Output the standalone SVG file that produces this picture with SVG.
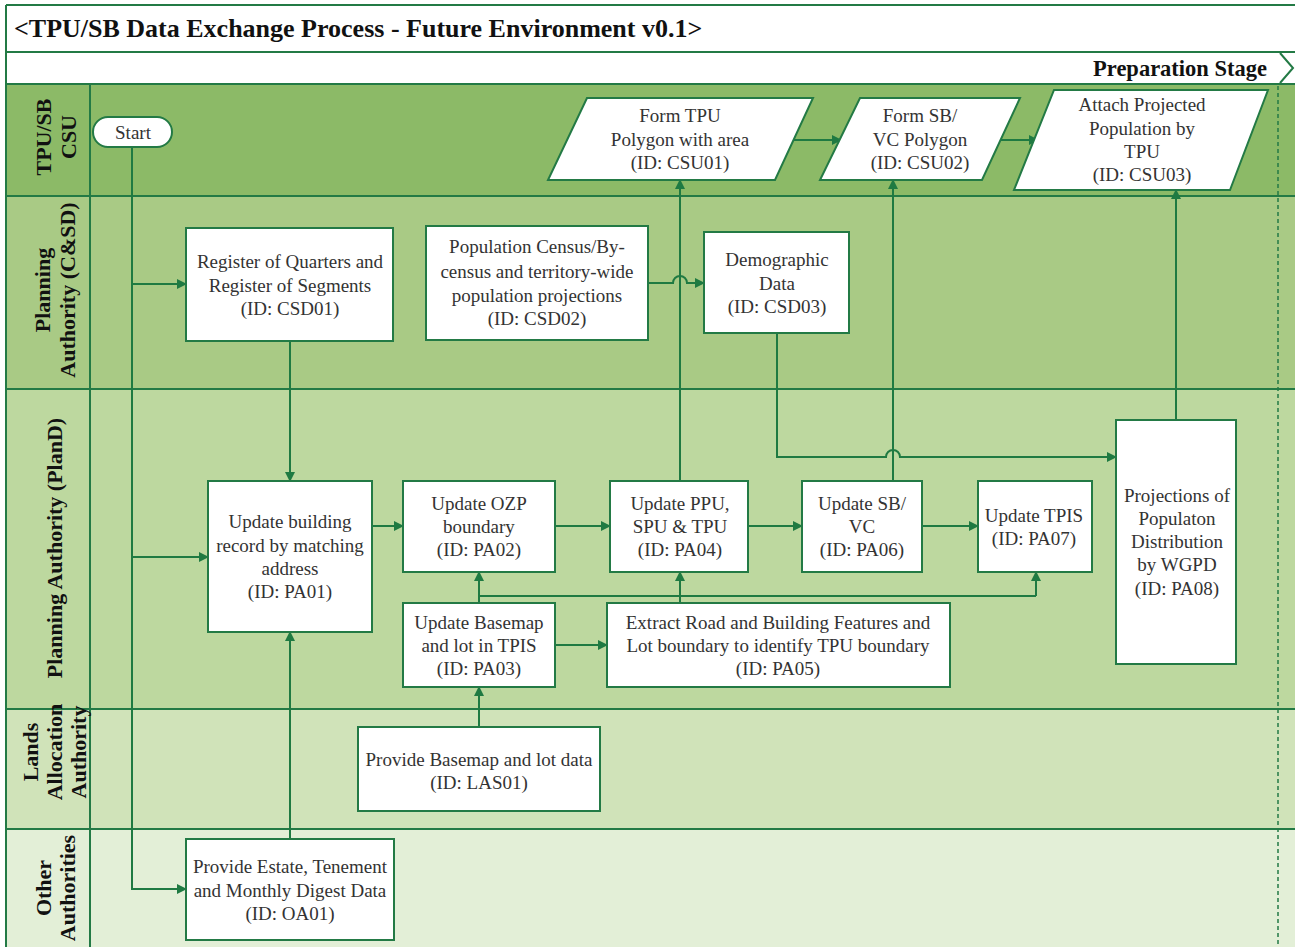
<svg xmlns="http://www.w3.org/2000/svg" width="1295" height="947" viewBox="0 0 1295 947">
<style>
.ln{stroke:#237a45;stroke-width:2;fill:none}
.box{fill:#fff;stroke:#237a45;stroke-width:2}
.t{font-family:"Liberation Serif","Times New Roman",serif;font-size:19px;fill:#333;text-anchor:middle}
.lh{font-family:"Liberation Serif","Times New Roman",serif;font-size:22px;font-weight:bold;fill:#111;text-anchor:middle}
.c{stroke:#1f7a42;stroke-width:2;fill:none}
.ca{stroke:#1f7a42;stroke-width:2;fill:none;marker-end:url(#ah)}
</style>
<defs>
<marker id="ah" viewBox="0 0 10 10" refX="9" refY="5" markerWidth="5" markerHeight="5" orient="auto" markerUnits="strokeWidth">
<path d="M0,0 L10,5 L0,10 z" fill="#1f7a42"/>
</marker>
</defs>
<rect width="1295" height="947" fill="#fff"/>
<g id="lanes">
<rect x="6" y="84" width="1300" height="112" fill="#8cba67"/>
<rect x="6" y="196" width="1300" height="193" fill="#a9ca85"/>
<rect x="6" y="389" width="1300" height="320" fill="#bdd89f"/>
<rect x="6" y="709" width="1300" height="120" fill="#d0e3b9"/>
<rect x="6" y="829" width="1300" height="130" fill="#e3efd7"/>
<path class="ln" d="M6,5 H1300 M6,52 H1300 M6,84 H1300 M6,196 H1300 M6,389 H1300 M6,709 H1300 M6,829 H1300 M6,5 V947 M90,84 V947"/>
<path class="ln" d="M1280,53 L1293,68 L1280,83" />
<line x1="1278" y1="86" x2="1278" y2="947" stroke="#237a45" stroke-width="1.5" stroke-dasharray="4,3"/>
</g>
<g id="title">
<text x="14" y="37" font-family="'Liberation Serif','Times New Roman',serif" font-size="26" font-weight="bold" fill="#111">&lt;TPU/SB Data Exchange Process - Future Environment v0.1&gt;</text>
<text x="1267" y="76" font-family="'Liberation Serif','Times New Roman',serif" font-size="22.5" font-weight="bold" fill="#111" text-anchor="end">Preparation Stage</text>
</g>
<g id="lane-labels">
<text class="lh" transform="translate(55,137) rotate(-90)"><tspan x="0" y="-4">TPU/SB</tspan><tspan x="0" y="21">CSU</tspan></text>
<text class="lh" transform="translate(55,290) rotate(-90)"><tspan x="0" y="-5">Planning</tspan><tspan x="0" y="20">Authority (C&amp;SD)</tspan></text>
<text class="lh" transform="translate(55,548) rotate(-90)"><tspan x="0" y="7">Planning Authority (PlanD)</tspan></text>
<text class="lh" transform="translate(55,752) rotate(-90)"><tspan x="0" y="-17">Lands</tspan><tspan x="0" y="7">Allocation</tspan><tspan x="0" y="31">Authority</tspan></text>
<text class="lh" transform="translate(55,888) rotate(-90)"><tspan x="0" y="-4">Other</tspan><tspan x="0" y="20">Authorities</tspan></text>
</g>
<g id="connectors">
<path class="ca" d="M132,147 V889 H186"/>
<path class="ca" d="M132,284 H186"/>
<path class="ca" d="M132,557 H208"/>
<path class="ca" d="M290,341 V481"/>
<path class="ca" d="M290,839 V632"/>
<path class="ca" d="M372,526 H403"/>
<path class="ca" d="M555,526 H610"/>
<path class="ca" d="M748,526 H802"/>
<path class="ca" d="M922,526 H978"/>
<path class="ca" d="M680,481 V180"/>
<path class="ca" d="M893,481 V180"/>
<path class="ca" d="M1176,420 V190"/>
<path class="ca" d="M648,283 H673 A7,7 0 0 1 687,283 H704"/>
<path class="ca" d="M777,333 V457 H886 A7,7 0 0 1 900,457 H1116"/>
<path class="ca" d="M794,140 H841"/>
<path class="ca" d="M1000,140 H1038"/>
<path class="ca" d="M479,727 V687"/>
<path class="ca" d="M555,645 H607"/>
<path class="ca" d="M479,603 V572"/>
<path class="c" d="M479,596 H1036"/>
<path class="ca" d="M680,603 V572"/>
<path class="ca" d="M1036,596 V572"/>
</g>
<g id="start">
<rect class="box" x="93" y="117" width="79" height="30" rx="15"/>
<text class="t" x="133" y="139" font-size="20">Start</text>
</g>
<g id="CSU01">
<polygon class="box" points="587,98 813,98 775,180 548,180"/>
<text class="t"><tspan x="680" y="122">Form TPU</tspan><tspan x="680" y="146">Polygon with area</tspan><tspan x="680" y="169">(ID: CSU01)</tspan></text>
</g>
<g id="CSU02">
<polygon class="box" points="860,98 1020,98 982,180 820,180"/>
<text class="t"><tspan x="920" y="122">Form SB/</tspan><tspan x="920" y="146">VC Polygon</tspan><tspan x="920" y="169">(ID: CSU02)</tspan></text>
</g>
<g id="CSU03">
<polygon class="box" points="1054,90 1268,90 1230,190 1014,190"/>
<text class="t"><tspan x="1142" y="111">Attach Projected</tspan><tspan x="1142" y="135">Population  by</tspan><tspan x="1142" y="158">TPU</tspan><tspan x="1142" y="181">(ID: CSU03)</tspan></text>
</g>
<g id="CSD01">
<rect class="box" x="186" y="228" width="207" height="113"/>
<text class="t"><tspan x="290" y="268">Register of Quarters and</tspan><tspan x="290" y="292">Register of Segments</tspan><tspan x="290" y="315">(ID: CSD01)</tspan></text>
</g>
<g id="CSD02">
<rect class="box" x="426" y="226" width="222" height="114"/>
<text class="t"><tspan x="537" y="253">Population Census/By-</tspan><tspan x="537" y="278">census and territory-wide</tspan><tspan x="537" y="302">population projections</tspan><tspan x="537" y="325">(ID: CSD02)</tspan></text>
</g>
<g id="CSD03">
<rect class="box" x="704" y="232" width="145" height="101"/>
<text class="t"><tspan x="777" y="266">Demographic</tspan><tspan x="777" y="290">Data</tspan><tspan x="777" y="313">(ID: CSD03)</tspan></text>
</g>
<g id="PA01">
<rect class="box" x="208" y="481" width="164" height="151"/>
<text class="t"><tspan x="290" y="528">Update building</tspan><tspan x="290" y="552">record by matching</tspan><tspan x="290" y="575">address</tspan><tspan x="290" y="598">(ID: PA01)</tspan></text>
</g>
<g id="PA02">
<rect class="box" x="403" y="481" width="152" height="91"/>
<text class="t"><tspan x="479" y="510">Update OZP</tspan><tspan x="479" y="533">boundary</tspan><tspan x="479" y="556">(ID: PA02)</tspan></text>
</g>
<g id="PA04">
<rect class="box" x="610" y="481" width="138" height="91"/>
<text class="t"><tspan x="680" y="510">Update PPU,</tspan><tspan x="680" y="533">SPU &amp; TPU</tspan><tspan x="680" y="556">(ID: PA04)</tspan></text>
</g>
<g id="PA06">
<rect class="box" x="802" y="481" width="120" height="91"/>
<text class="t"><tspan x="862" y="510">Update SB/</tspan><tspan x="862" y="533">VC</tspan><tspan x="862" y="556">(ID: PA06)</tspan></text>
</g>
<g id="PA07">
<rect class="box" x="978" y="481" width="114" height="91"/>
<text class="t"><tspan x="1034" y="522">Update TPIS</tspan><tspan x="1034" y="545">(ID: PA07)</tspan></text>
</g>
<g id="PA08">
<rect class="box" x="1116" y="420" width="120" height="244"/>
<text class="t"><tspan x="1177" y="502">Projections of</tspan><tspan x="1177" y="525">Populaton</tspan><tspan x="1177" y="548">Distribution</tspan><tspan x="1177" y="571">by WGPD</tspan><tspan x="1177" y="595">(ID: PA08)</tspan></text>
</g>
<g id="PA03">
<rect class="box" x="403" y="603" width="152" height="84"/>
<text class="t"><tspan x="479" y="629">Update Basemap</tspan><tspan x="479" y="652">and lot in TPIS</tspan><tspan x="479" y="675">(ID: PA03)</tspan></text>
</g>
<g id="PA05">
<rect class="box" x="607" y="603" width="343" height="84"/>
<text class="t"><tspan x="778" y="629">Extract Road and Building Features and</tspan><tspan x="778" y="652">Lot boundary to identify TPU boundary</tspan><tspan x="778" y="675">(ID: PA05)</tspan></text>
</g>
<g id="LAS01">
<rect class="box" x="358" y="727" width="242" height="84"/>
<text class="t"><tspan x="479" y="766">Provide Basemap and lot data</tspan><tspan x="479" y="789">(ID: LAS01)</tspan></text>
</g>
<g id="OA01">
<rect class="box" x="186" y="839" width="208" height="101"/>
<text class="t"><tspan x="290" y="873">Provide Estate, Tenement</tspan><tspan x="290" y="897">and Monthly Digest Data</tspan><tspan x="290" y="920">(ID: OA01)</tspan></text>
</g>
</svg>
